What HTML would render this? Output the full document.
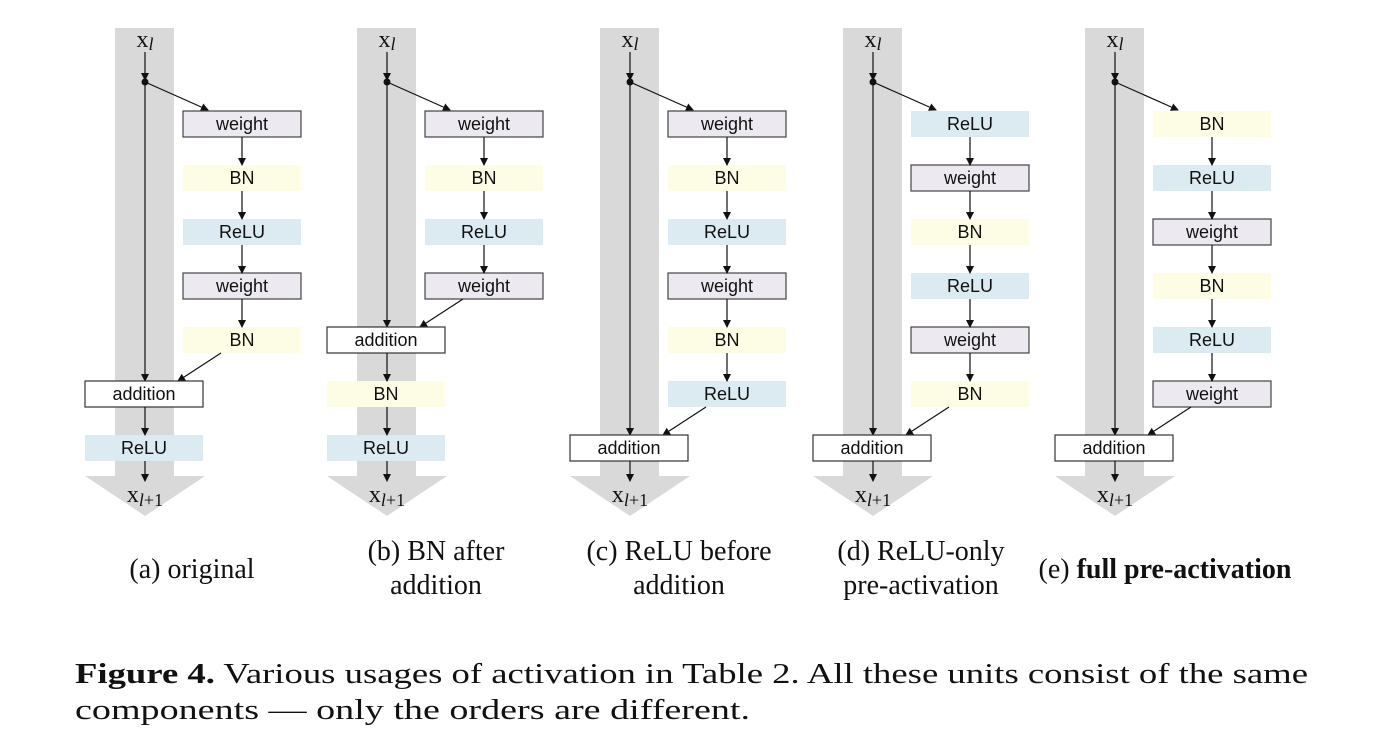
<!DOCTYPE html>
<html><head><meta charset="utf-8"><style>
html,body{margin:0;padding:0;background:#fff;}
svg{display:block}
.bx{font-family:"Liberation Sans",sans-serif;font-size:18px;fill:#111;text-anchor:middle;dominant-baseline:central}
.cap{font-family:"Liberation Serif",serif;font-size:28px;fill:#111;text-anchor:middle}
.fig{font-family:"Liberation Serif",serif;font-size:29px;fill:#111}
.xl{font-family:"Liberation Serif",serif;font-size:24px;fill:#111;text-anchor:middle}
</style></head><body>
<svg id="s" width="1396" height="742" viewBox="0 0 1396 742" xmlns="http://www.w3.org/2000/svg">
<defs><marker id="ah" markerWidth="8" markerHeight="8" refX="7" refY="4" orient="auto" markerUnits="userSpaceOnUse"><path d="M0,0 L8,4 L0,8 z" fill="#111"/></marker></defs>
<g id="g"></g>
<text class="cap" x="192" y="578">(a) original</text>
<text class="cap" x="436" y="560">(b) BN after</text>
<text class="cap" x="436" y="594">addition</text>
<text class="cap" x="679" y="560">(c) ReLU before</text>
<text class="cap" x="679" y="594">addition</text>
<text class="cap" x="921" y="560">(d) ReLU-only</text>
<text class="cap" x="921" y="594">pre-activation</text>
<text class="cap" x="1165" y="578">(e) <tspan font-weight="bold">full pre-activation</tspan></text>
<text class="fig" x="75" y="683" textLength="1233" lengthAdjust="spacingAndGlyphs"><tspan font-weight="bold">Figure 4.</tspan> Various usages of activation in Table 2. All these units consist of the same</text>
<text class="fig" x="75" y="719" textLength="675" lengthAdjust="spacingAndGlyphs">components — only the orders are different.</text>
</svg>
<script>
const panelOffsets=[0,242,485,728,970];
const rightCols=[["weight","BN","ReLU","weight","BN"],["weight","BN","ReLU","weight"],["weight","BN","ReLU","weight","BN","ReLU"],["ReLU","weight","BN","ReLU","weight","BN"],["BN","ReLU","weight","BN","ReLU","weight"]];
const leftCols=[["addition","ReLU"],["addition","BN","ReLU"],["addition"],["addition"],["addition"]];
const fills={weight:"#ece9f1",BN:"#fdfde6",ReLU:"#dceaf1",addition:"#ffffff"};
const strokes={weight:"#444",BN:"none",ReLU:"none",addition:"#333"};
const NS="http://www.w3.org/2000/svg";
const g=document.getElementById('g');
function mk(t,a){const e=document.createElementNS(NS,t);for(const k in a)e.setAttribute(k,a[k]);g.appendChild(e);return e;}
function arrow(x1,y1,x2,y2){const l=mk('line',{x1,y1,x2,y2,stroke:'#111','stroke-width':1.2,'marker-end':'url(#ah)'});

}
function box(x,yc,label){const r=mk('rect',{x:x,y:yc-13,width:118,height:26,fill:fills[label],stroke:strokes[label],'stroke-width':1.2});


const t=mk('text',{x:x+59,y:yc,class:'bx'});t.textContent=label;

}
const row=i=>124+54*i;
panelOffsets.forEach((dx,p)=>{
 const mx=145+dx;
 const bar=mk('path',{d:`M${mx-30},28 H${mx+29} V476 H${mx+60} L${mx},516 L${mx-60},476 H${mx-30} Z`,fill:'#d9d9d9'});
 
 
 const xi=mk('text',{x:mx,y:47,class:'xl'});xi.innerHTML='x<tspan font-style="italic" font-size="18" dy="3">l</tspan>';
 
 
 arrow(mx,52,mx,80);
 const dot=mk('circle',{cx:mx,cy:82,r:3.5,fill:'#111'});
 
 
 const rc=rightCols[p], lc=leftCols[p];
 const rx=183+dx;
 arrow(mx,82,rx+25,110);
 rc.forEach((lab,i)=>{box(rx,row(i),lab); if(i>0) arrow(rx+59,row(i-1)+13,rx+59,row(i)-13);});
 const addRow=rc.length;
 const lx=85+dx;
 arrow(mx,84,mx,row(addRow)-13);
 arrow(rx+38,row(rc.length-1)+13,lx+93,row(addRow)-13);
 lc.forEach((lab,j)=>{const r=addRow+j; box(lx,row(r),lab); if(j>0) arrow(mx,row(r-1)+13,mx,row(r)-13);});
 const last=addRow+lc.length-1;
 arrow(mx,row(last)+13,mx,481);
 const xo=mk('text',{x:mx,y:502,class:'xl'});xo.innerHTML='x<tspan font-style="italic" font-size="18" dy="4">l</tspan><tspan font-size="18">+1</tspan>';
 
 
});
</script>
</body></html>
